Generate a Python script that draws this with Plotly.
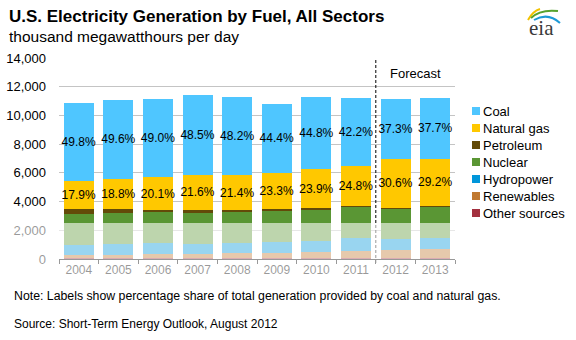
import plotly.graph_objects as go

years = ["2004", "2005", "2006", "2007", "2008", "2009", "2010", "2011", "2012", "2013"]
coal = [5419, 5511, 5457, 5524, 5424, 4805, 5063, 4740, 4163, 4234]
natural_gas = [1942, 2089, 2239, 2460, 2408, 2522, 2701, 2786, 3415, 3279]
petroleum = [332, 334, 175, 181, 126, 107, 101, 82, 70, 75]
nuclear = [2155, 2142, 2156, 2208, 2202, 2189, 2211, 2164, 2110, 2180]
hydropower = [732, 740, 792, 677, 694, 748, 712, 890, 750, 780]
renewables = [230, 238, 263, 288, 344, 395, 458, 532, 600, 630]
other = [40, 55, 55, 51, 56, 56, 55, 39, 52, 52]
coal_share = ["49.8%", "49.6%", "49.0%", "48.5%", "48.2%", "44.4%", "44.8%", "42.2%", "37.3%", "37.7%"]
gas_share = ["17.9%", "18.8%", "20.1%", "21.6%", "21.4%", "23.3%", "23.9%", "24.8%", "30.6%", "29.2%"]

FONT = "Liberation Sans, Arial, sans-serif"
L, R, T, B = 59, 455, 58, 259
W, H = 576, 340


def px_x(px):
    return (px - L) / (R - L)


def px_y(py):
    return (B - py) / (B - T)


series = [
    ("Other sources", other, "#A3303F", None),
    ("Renewables", renewables, "#C07830", None),
    ("Hydropower", hydropower, "#0096DA", None),
    ("Nuclear", nuclear, "#5A9634", None),
    ("Petroleum", petroleum, "#634A08", None),
    ("Natural gas", natural_gas, "#FFC800", gas_share),
    ("Coal", coal, "#4FC6FF", coal_share),
]

fig = go.Figure()
for name, vals, color, txt in series:
    kw = {}
    if txt is not None:
        kw = dict(text=txt, textposition="inside", insidetextanchor="middle",
                  textfont=dict(color="black", size=12, family=FONT),
                  constraintext="none", textangle=0)
    fig.add_trace(go.Bar(x=years, y=vals, name=name, marker=dict(color=color, line=dict(width=0)),
                         showlegend=False, **kw))

fig.update_layout(
    width=W, height=H,
    barmode="stack", bargap=0.24,
    paper_bgcolor="white", plot_bgcolor="white",
    margin=dict(l=L, r=W - R, t=T, b=H - B, autoexpand=False),
    font=dict(family=FONT, size=12, color="black"),
    showlegend=False,
)
fig.update_yaxes(range=[0, 14000], tickvals=[0, 2000, 4000, 6000, 8000, 10000, 12000, 14000],
                 tickformat=",d", showgrid=True, gridcolor="#C4C4C4", gridwidth=1,
                 zeroline=False, showline=False, ticks="", ticklabelstandoff=12,
                 tickfont=dict(size=13, family=FONT, color="black"))
fig.update_xaxes(showline=True, linecolor="black", linewidth=1, ticks="outside", tickson="boundaries",
                 ticklen=4, tickcolor="black", tickfont=dict(size=12, family=FONT, color="black"),
                 showgrid=False)

# manual legend (Coal first)
for i, (name, vals, color, txt) in enumerate(reversed(series)):
    yc = 111 + 17 * i
    fig.add_shape(type="rect", xref="paper", yref="paper", x0=px_x(472), x1=px_x(480),
                  y0=px_y(yc + 4), y1=px_y(yc - 4), fillcolor=color, line=dict(width=0))
    fig.add_annotation(xref="paper", yref="paper", x=px_x(481), y=px_y(yc), xanchor="left",
                       yanchor="middle", text=name, showarrow=False,
                       font=dict(size=13, family=FONT, color="black"))

# forecast divider
fig.add_shape(type="line", xref="x", yref="paper", x0=7.5, x1=7.5, y0=px_y(263), y1=px_y(58),
              line=dict(color="black", width=1, dash="3px,2px"))
fig.add_annotation(xref="x", yref="y", x=8.5, y=12950, text="Forecast", showarrow=False,
                   font=dict(size=13, family=FONT, color="black"))

# washed-out lower band (as in the reference image)
fig.add_shape(type="rect", xref="paper", yref="paper", x0=px_x(0), x1=px_x(458),
              y0=px_y(285), y1=px_y(223), fillcolor="rgba(255,255,255,0.6)", line=dict(width=0),
              layer="above")

# titles and notes
fig.add_annotation(xref="paper", yref="paper", x=px_x(7), y=px_y(17), xanchor="left", yanchor="middle",
                   text="<b>U.S. Electricity Generation by Fuel, All Sectors</b>", showarrow=False,
                   font=dict(size=17, family=FONT, color="black"))
fig.add_annotation(xref="paper", yref="paper", x=px_x(7), y=px_y(37), xanchor="left", yanchor="middle",
                   text="thousand megawatthours per day", showarrow=False,
                   font=dict(size=15.5, family=FONT, color="black"))
fig.add_annotation(xref="paper", yref="paper", x=px_x(12), y=px_y(296), xanchor="left", yanchor="middle",
                   text="Note: Labels show percentage share of total generation provided by coal and natural gas.",
                   showarrow=False, font=dict(size=12.3, family=FONT, color="black"))
fig.add_annotation(xref="paper", yref="paper", x=px_x(12), y=px_y(324), xanchor="left", yanchor="middle",
                   text="Source: Short-Term Energy Outlook, August 2012",
                   showarrow=False, font=dict(size=12, family=FONT, color="black"))

# eia logo
fig.add_annotation(xref="paper", yref="paper", x=px_x(541), y=px_y(28), xanchor="center", yanchor="middle",
                   text="eia", showarrow=False,
                   font=dict(size=21, family="Liberation Serif, DejaVu Serif, serif", color="#3a3a3a"))
logo_svg = (
    "data:image/svg+xml;utf8,"
    "<svg xmlns='http://www.w3.org/2000/svg' width='40' height='24' viewBox='0 0 40 24'>"
    "<path d='M4 16 Q9 7 16 5' stroke='%23F2C200' stroke-width='2' fill='none'/>"
    "<path d='M7 14 Q16 5 34 7' stroke='%2358A22E' stroke-width='2' fill='none'/>"
    "<path d='M10 16 Q24 8 36 19' stroke='%231E9AD6' stroke-width='2' fill='none'/>"
    "</svg>"
)
fig.add_layout_image(source=logo_svg, xref="paper", yref="paper", x=px_x(524), y=px_y(4),
                     sizex=40 / (R - L), sizey=24 / (B - T), xanchor="left", yanchor="top",
                     sizing="stretch", layer="above")

fig.write_html("out.html")
